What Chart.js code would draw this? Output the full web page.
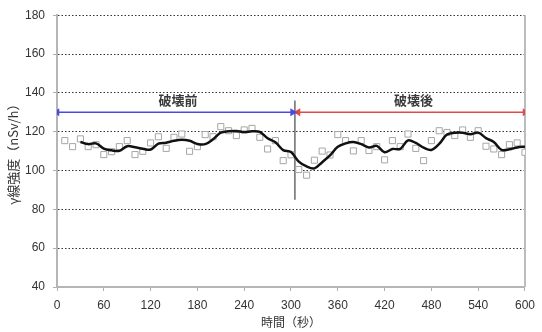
<!DOCTYPE html>
<html>
<head>
<meta charset="utf-8">
<script src="https://cdn.jsdelivr.net/npm/chart.js@4/dist/chart.umd.min.js"></script>
<style>
  html, body { margin: 0; padding: 0; background: #fff; }
  #wrap { width: 542px; height: 332px; }
</style>
</head>
<body>
<div id="wrap"><canvas id="c" width="542" height="332"></canvas></div>
<script>
// Measurement times (s) and gamma dose rate (nSv/h)
const seconds = [10, 20, 30, 40, 50, 60, 70, 80, 90, 100,
  110, 120, 130, 140, 150, 160, 170, 180, 190, 200,
  210, 220, 230, 240, 250, 260, 270, 280, 290, 300,
  310, 320, 330, 340, 350, 360, 370, 380, 390, 400,
  410, 420, 430, 440, 450, 460, 470, 480, 490, 500,
  510, 520, 530, 540, 550, 560, 570, 580, 590, 600];
const doseRate = [115.4, 112.3, 116.3, 112.3, 113.3, 108.2, 109.7, 112.3, 115.4, 108.2,
  109.9, 114.2, 117.4, 111.4, 117.1, 118.8, 109.9, 112.3, 118.5, 117.4,
  122.6, 120.5, 118.0, 120.9, 121.7, 117.1, 111.1, 115.4, 105.1, 108.1,
  100.5, 97.6, 105.3, 110.0, 108.0, 118.5, 115.4, 110.1, 115.4, 110.3,
  112.3, 105.5, 115.4, 112.3, 118.8, 111.4, 105.1, 115.4, 120.5, 119.6,
  118.0, 120.9, 117.1, 120.5, 112.5, 111.1, 108.2, 113.3, 114.2, 109.4];

// Moving-average trend line
const trendSeconds = [30, 40, 50, 60, 70, 80, 90, 100, 110, 120,
  130, 140, 150, 160, 170, 180, 190, 200, 210, 220,
  230, 240, 250, 260, 270, 280, 290, 300, 310, 320,
  330, 340, 350, 360, 370, 380, 390, 400, 410, 420,
  430, 440, 450, 460, 470, 480, 490, 500, 510, 520,
  530, 540, 550, 560, 570, 580, 590, 600];
const trendRate = [114.7, 113.6, 114.0, 111.3, 110.4, 110.1, 112.5, 112.0, 111.2, 110.8,
  113.8, 114.3, 115.3, 115.8, 115.3, 113.7, 113.6, 116.1, 119.5, 120.2,
  120.4, 119.8, 120.2, 119.9, 116.6, 114.5, 110.5, 109.5, 104.6, 102.1,
  101.1, 104.3, 107.8, 112.2, 114.0, 114.7, 113.6, 111.9, 112.7, 109.4,
  111.1, 111.1, 115.5, 114.2, 111.8, 110.6, 113.7, 118.5, 119.4, 119.5,
  118.7, 119.5, 116.7, 114.7, 110.6, 110.9, 111.9, 112.3];

// Before / after destruction ranges
const breakTime = 305;
const breakMarkerRange = [85, 136];
const arrowLevel = 130;
const beforeRange = [0, 302];
const afterRange = [309, 600];
const phaseLabels = ['破壊前', '破壊後'];
const phaseLabelX = [155, 457];
const phaseLabelY = 136.5;

// Axis ticks
const xTicks = [0, 60, 120, 180, 240, 300, 360, 420, 480, 540, 600];
const yTicks = [40, 60, 80, 100, 120, 140, 160, 180];

const xyPairs = (xs, ys) => xs.map((v, i) => ({ x: v, y: ys[i] }));

const frameAndLabels = {
  id: 'frameAndLabels',
  beforeDatasetsDraw(chart) {
    const { ctx, chartArea, scales: { x, y } } = chart;
    ctx.save();
    ctx.strokeStyle = '#bdbdbd';
    ctx.lineWidth = 2;
    ctx.beginPath();
    ctx.moveTo(chartArea.right, chartArea.top);
    ctx.lineTo(chartArea.right, chartArea.bottom);
    ctx.stroke();
    ctx.font = 'bold 13px "Noto Sans CJK JP"';
    ctx.fillStyle = '#3a3a3a';
    ctx.textAlign = 'center';
    ctx.textBaseline = 'middle';
    phaseLabels.forEach((t, i) => {
      ctx.fillText(t, x.getPixelForValue(phaseLabelX[i]), y.getPixelForValue(phaseLabelY));
    });
    ctx.restore();
  }
};

new Chart(document.getElementById('c'), {
  type: 'scatter',
  data: {
    datasets: [
      {
        label: 'before',
        data: xyPairs(beforeRange, [arrowLevel, arrowLevel]),
        showLine: true,
        borderColor: '#4a4ae0',
        backgroundColor: '#4a4ae0',
        borderWidth: 1.5,
        pointStyle: 'triangle',
        pointRadius: 3,
        pointRotation: [-90, 90],
        order: 3
      },
      {
        label: 'after',
        data: xyPairs(afterRange, [arrowLevel, arrowLevel]),
        showLine: true,
        borderColor: '#e04a4a',
        backgroundColor: '#e04a4a',
        borderWidth: 1.5,
        pointStyle: 'triangle',
        pointRadius: 3,
        pointRotation: [-90, 90],
        order: 3
      },
      {
        label: 'break',
        data: xyPairs([breakTime, breakTime], breakMarkerRange),
        showLine: true,
        borderColor: '#6a6a6a',
        borderWidth: 1.5,
        pointRadius: 0,
        order: 3
      },
      {
        label: 'measured',
        data: xyPairs(seconds, doseRate),
        pointStyle: 'rect',
        pointRadius: 4.3,
        borderColor: '#a6a6a6',
        backgroundColor: '#ffffff',
        borderWidth: 1,
        order: 2
      },
      {
        label: 'trend',
        data: xyPairs(trendSeconds, trendRate),
        showLine: true,
        borderColor: '#111111',
        borderWidth: 2.5,
        tension: 0.35,
        pointRadius: 0,
        order: 1
      }
    ]
  },
  options: {
    responsive: false,
    animation: false,
    layout: { padding: { left: 0, right: 9, top: 14, bottom: 0 } },
    plugins: {
      legend: { display: false },
      tooltip: { enabled: false }
    },
    scales: {
      x: {
        type: 'linear',
        min: 0,
        max: 600,
        afterBuildTicks: (s) => { s.ticks = xTicks.map(v => ({ value: v })); },
        afterFit: (s) => { s.height = 45; },
        ticks: {
          color: '#333',
          padding: 7,
          maxRotation: 0,
          autoSkip: false,
          font: { family: '"Liberation Sans", Arial, sans-serif', size: 12 }
        },
        grid: {
          drawOnChartArea: false,
          tickLength: 4,
          tickColor: '#b0b0b0',
          tickWidth: 1
        },
        border: { color: '#b5b5b5', width: 2 },
        title: {
          display: true,
          text: '時間（秒）',
          color: '#333',
          padding: { top: 0, bottom: 2 },
          font: { family: '"Noto Sans CJK JP"', size: 12 }
        }
      },
      y: {
        min: 40,
        max: 180,
        afterBuildTicks: (s) => { s.ticks = yTicks.map(v => ({ value: v })); },
        afterFit: (s) => { s.width = 57; },
        ticks: {
          color: '#333',
          padding: 8,
          font: { family: '"Liberation Sans", Arial, sans-serif', size: 12 }
        },
        grid: {
          color: (c) => (c.tick && c.tick.value === 40 ? 'rgba(0,0,0,0)' : '#333'),
          lineWidth: 1,
          tickLength: 4,
          tickColor: '#b0b0b0',
          tickBorderDash: [],
          tickWidth: 1
        },
        border: { color: '#b5b5b5', width: 2, dash: [1.5, 2] },
        title: {
          display: true,
          text: 'γ線強度（nSv/h）',
          color: '#333',
          padding: { top: 5, bottom: 0 },
          font: { family: '"Noto Sans CJK JP"', size: 13 }
        }
      }
    }
  },
  plugins: [frameAndLabels]
});
</script>
</body>
</html>
